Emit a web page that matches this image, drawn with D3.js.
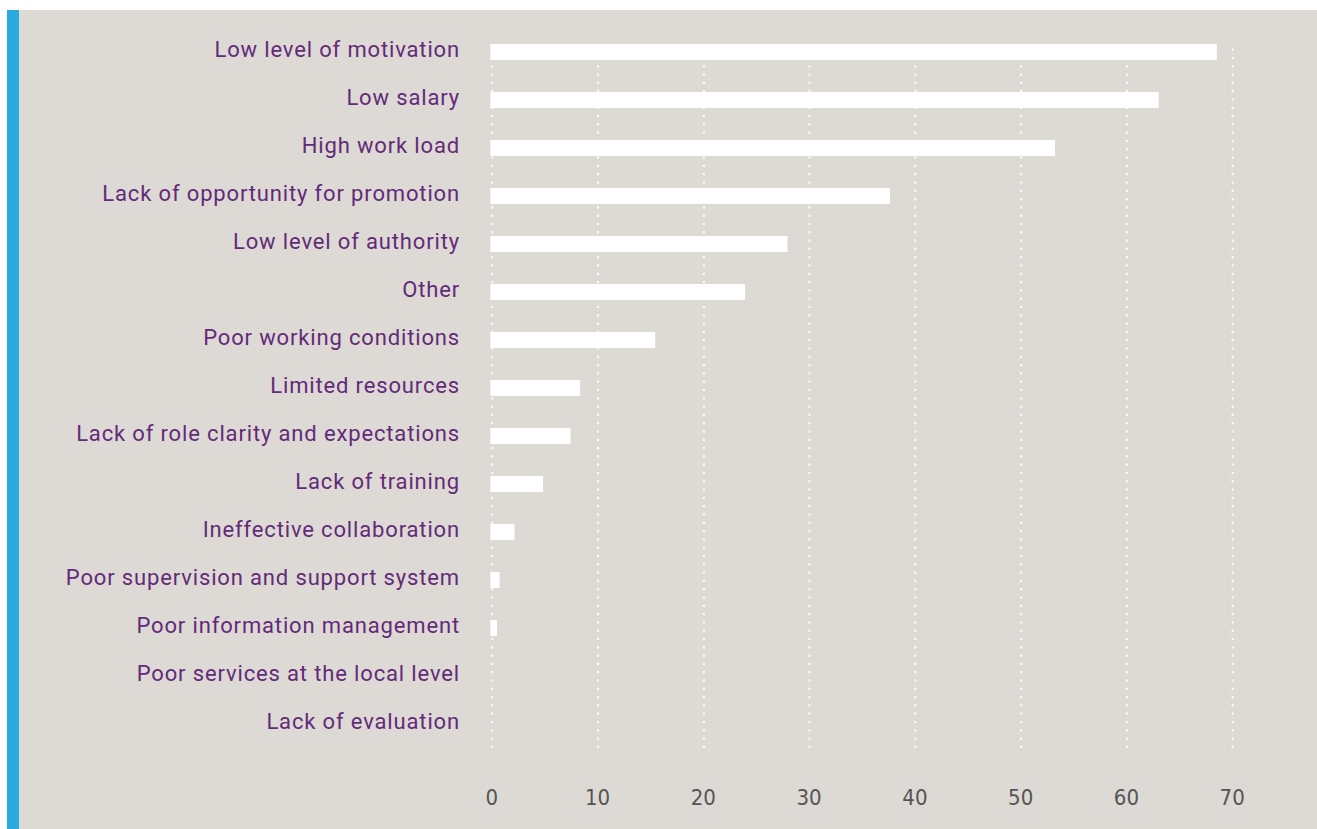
<!DOCTYPE html>
<html>
<head>
<meta charset="utf-8">
<script src="https://cdn.jsdelivr.net/npm/d3@7"></script>
<style>
  html, body { margin: 0; padding: 0; background: #ffffff; }
  svg { display: block; }
</style>
</head>
<body>
<svg id="chart" width="1317" height="829"></svg>
<script>
// Reasons reported, share of respondents (%)
const categories = [
  "Low level of motivation",
  "Low salary",
  "High work load",
  "Lack of opportunity for promotion",
  "Low level of authority",
  "Other",
  "Poor working conditions",
  "Limited resources",
  "Lack of role clarity and expectations",
  "Lack of training",
  "Ineffective collaboration",
  "Poor supervision and support system",
  "Poor information management",
  "Poor services at the local level",
  "Lack of evaluation"
];
const values = [68.5, 63.0, 53.2, 37.6, 27.9, 23.9, 15.4, 8.3, 7.4, 4.8, 2.1, 0.7, 0.45, 0, 0];
const tickValues = [0, 10, 20, 30, 40, 50, 60, 70];

const svg = d3.select("#chart");
const W = 1317, H = 829;

// panel background and accent stripe
svg.append("rect").attr("x", 7).attr("y", 10).attr("width", W - 7).attr("height", H - 10)
  .attr("fill", "#ddd9d4");
svg.append("rect").attr("x", 7).attr("y", 10).attr("width", 12).attr("height", H - 10)
  .attr("fill", "#29aae1");

const x = d3.scaleLinear().domain([0, 70]).range([492.3, 1232.7]);
const y = d3.scaleBand().domain(categories).range([28, 748])
  .paddingInner(2 / 3).paddingOuter(1 / 3);

// dotted vertical gridlines
svg.append("g").selectAll("line").data(tickValues).join("line")
  .attr("x1", d => x(d)).attr("x2", d => x(d))
  .attr("y1", 748).attr("y2", 44)
  .attr("stroke", "#fbfaf9").attr("stroke-width", 2.2)
  .attr("stroke-dasharray", "2.2,6.1");

// bars
svg.append("g").selectAll("rect").data(categories).join("rect")
  .attr("x", x(0) - 2)
  .attr("y", d => y(d))
  .attr("width", (d, i) => values[i] > 0 ? x(values[i]) - x(0) + 2 : 0)
  .attr("height", y.bandwidth())
  .attr("fill", "#ffffff");

// category labels
svg.append("g").selectAll("text").data(categories).join("text")
  .attr("x", 460)
  .attr("y", d => y(d) + y.bandwidth() / 2 + 5)
  .attr("text-anchor", "end")
  .attr("font-family", "Roboto, 'Liberation Sans', sans-serif")
  .attr("font-size", 22)
  .attr("letter-spacing", 0.85)
  .attr("fill", "#632a7a")
  .text(d => d);

// x axis tick labels
const axis = d3.axisBottom(x).tickValues(tickValues).tickSize(0).tickPadding(19)
  .tickFormat(d3.format("d"));
const gx = svg.append("g").attr("transform", "translate(-1,770)").call(axis);
gx.select(".domain").remove();
gx.selectAll("text")
  .attr("font-family", "'Liberation Sans Narrow', 'DejaVu Sans Condensed', sans-serif")
  .attr("font-size", 22)
  .attr("fill", "#555555");
</script>
</body>
</html>
